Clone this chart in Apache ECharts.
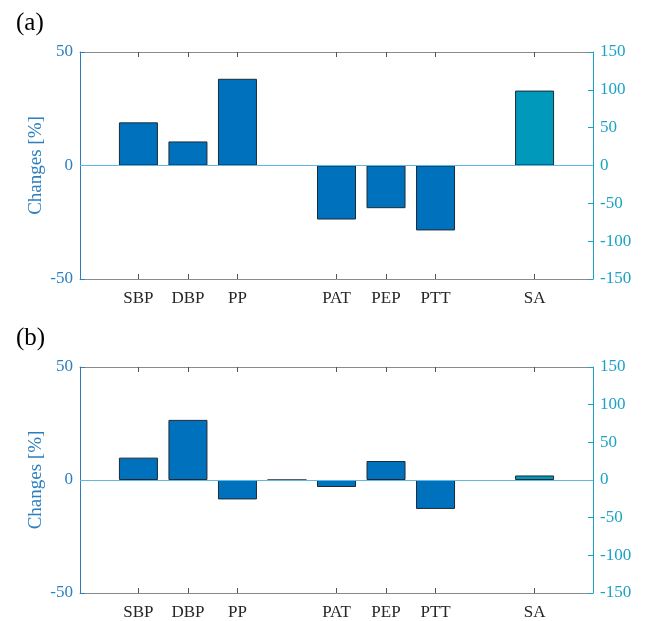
<!DOCTYPE html>
<html>
<head>
<meta charset="utf-8">
<script src="https://cdn.jsdelivr.net/npm/echarts@6/dist/echarts.min.js"></script>
<style>
  html, body { margin: 0; padding: 0; background: #fff; }
  #chart { width: 650px; height: 621px; }
</style>
</head>
<body>
<div id="chart"></div>
<script>
// Measures along the x axis (empty names are spacer slots)
const categories = ['SBP', 'DBP', 'PP', '', 'PAT', 'PEP', 'PTT', '', 'SA'];

// Panel (a): relative changes [%], left axis for the first seven slots
const changesA = [19, 10.6, 38.2, 0, -23.8, -18.8, -28.6];
// Panel (a): SA change, right axis
const saA = 99;

// Panel (b)
const changesB = [9.9, 26.6, -8.6, 0, -3.1, 8.4, -12.8];
const saB = 6;

const FONT = '"Liberation Serif", "Times New Roman", serif';
const LEFT_COLOR = '#2b7fc1';
const RIGHT_COLOR = '#1ba3c6';
const BAR_COLOR = '#0072bd';
const SA_COLOR = '#0099bc';
const BASE_COLOR = '#5db8e3';
const BOX_COLOR = '#8a8a8a';

const labelPositions = categories.map((c, i) => i + 1).filter((p, i) => categories[i] !== '');
const saPos = categories.indexOf('SA') + 1;

const grids = [
  { left: 80, top: 52, width: 513, height: 227 },
  { left: 80, top: 367, width: 513, height: 227 }
];

function xAxes(gi) {
  const common = {
    type: 'value', gridIndex: gi, min: -0.18, max: 10.18,
    splitLine: { show: false },
    axisLine: { onZero: false, lineStyle: { color: BOX_COLOR, width: 1 } }
  };
  return [
    Object.assign({}, common, {
      position: 'bottom',
      axisTick: { show: true, inside: true, length: 5, customValues: labelPositions,
        lineStyle: { color: '#555' } },
      axisLabel: {
        customValues: labelPositions,
        formatter: v => categories[Math.round(v) - 1] || '',
        fontFamily: FONT, fontSize: 17, color: '#262626', margin: 11
      }
    }),
    Object.assign({}, common, {
      position: 'top',
      axisTick: { show: true, inside: true, length: 5, customValues: labelPositions,
        lineStyle: { color: '#555' } },
      axisLabel: { show: false }
    })
  ];
}

function yAxes(gi) {
  return [
    {
      type: 'value', gridIndex: gi, position: 'left', min: -50, max: 50, interval: 50,
      name: 'Changes [%]', nameLocation: 'middle', nameGap: 34, nameRotate: 90,
      nameMoveOverlap: false,
      nameTextStyle: { fontFamily: FONT, fontSize: 19, color: LEFT_COLOR },
      splitLine: { show: false },
      axisLine: { show: true, onZero: false, lineStyle: { color: LEFT_COLOR } },
      axisTick: { show: true, inside: true, length: 5, lineStyle: { color: LEFT_COLOR } },
      axisLabel: { fontFamily: FONT, fontSize: 17, color: LEFT_COLOR, margin: 7 }
    },
    {
      type: 'value', gridIndex: gi, position: 'right', min: -150, max: 150, interval: 50,
      splitLine: { show: false },
      axisLine: { show: true, onZero: false, lineStyle: { color: RIGHT_COLOR } },
      axisTick: { show: true, inside: true, length: 5, lineStyle: { color: RIGHT_COLOR } },
      axisLabel: { fontFamily: FONT, fontSize: 17, color: RIGHT_COLOR, margin: 7 }
    }
  ];
}

function panelSeries(gi, changes, sa) {
  const xi = gi * 2, yi = gi * 2;
  return [
    {
      type: 'bar', xAxisIndex: xi, yAxisIndex: yi, barWidth: 39, barGap: '-100%',
      data: changes.map((v, i) => [i + 1, v]),
      itemStyle: { color: BAR_COLOR, borderColor: '#1c2a38', borderWidth: 1 },
      markLine: {
        silent: true, symbol: 'none', label: { show: false },
        lineStyle: { color: BASE_COLOR, type: 'solid', width: 1.2 },
        data: [{ yAxis: 0 }]
      },
      z: 2
    },
    {
      type: 'bar', xAxisIndex: xi, yAxisIndex: yi + 1, barWidth: 39, barGap: '-100%',
      data: [[saPos, sa]],
      itemStyle: { color: SA_COLOR, borderColor: '#1c2a38', borderWidth: 1 },
      z: 2
    }
  ];
}

const chart = echarts.init(document.getElementById('chart'), null, { renderer: 'canvas' });
chart.setOption({
  animation: false,
  backgroundColor: '#fff',
  title: [
    { text: '(a)', left: 11, top: 6, textStyle: { fontFamily: FONT, fontSize: 25, fontWeight: 'normal', color: '#000' } },
    { text: '(b)', left: 11, top: 321, textStyle: { fontFamily: FONT, fontSize: 25, fontWeight: 'normal', color: '#000' } }
  ],
  grid: grids,
  xAxis: xAxes(0).concat(xAxes(1)),
  yAxis: yAxes(0).concat(yAxes(1)),
  series: panelSeries(0, changesA, saA).concat(panelSeries(1, changesB, saB))
});
</script>
</body>
</html>
